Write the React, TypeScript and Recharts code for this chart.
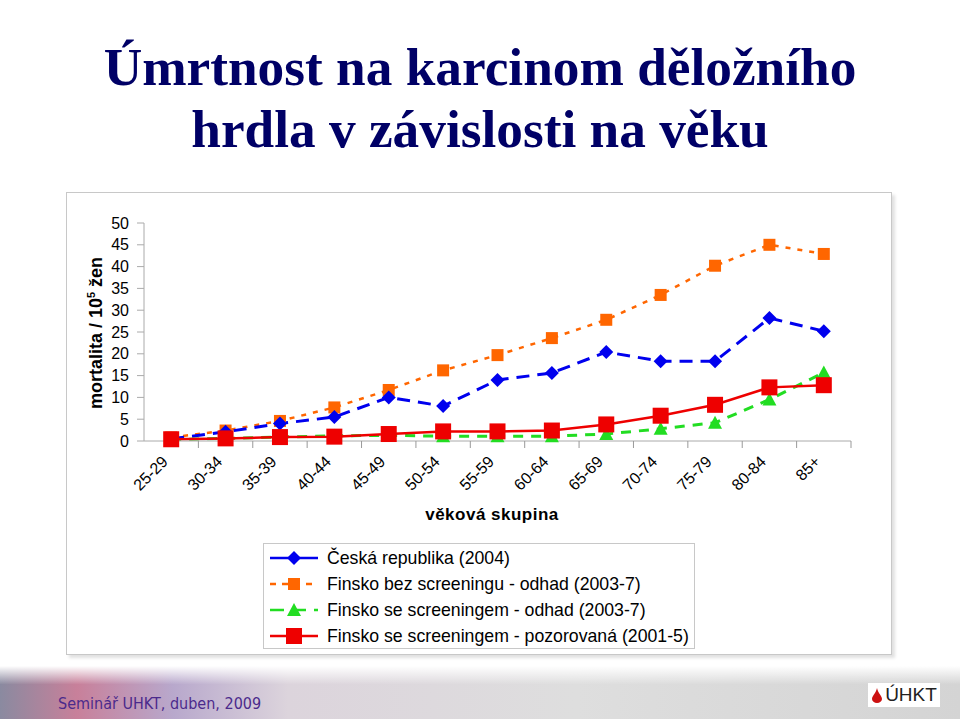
import { LineChart, Line, XAxis, YAxis } from 'recharts'

const ageGroups = ['25-29', '30-34', '35-39', '40-44', '45-49', '50-54', '55-59', '60-64', '65-69', '70-74', '75-79', '80-84', '85+']
const czech = [0.5, 2.1, 4.0, 5.5, 10.0, 8.0, 14.0, 15.6, 20.4, 18.3, 18.3, 28.2, 25.2]
const finNoScreening = [0.8, 2.4, 4.6, 7.7, 11.7, 16.2, 19.7, 23.6, 27.8, 33.5, 40.2, 45.0, 42.9]
const finScreeningEst = [0.3, 0.6, 0.9, 1.2, 1.3, 1.1, 1.1, 1.1, 1.6, 2.8, 4.2, 9.5, 15.7]
const finScreeningObs = [0.4, 0.6, 0.9, 1.0, 1.6, 2.2, 2.2, 2.4, 3.8, 5.8, 8.3, 12.3, 12.8]
const yTicks = [0, 5, 10, 15, 20, 25, 30, 35, 40, 45, 50]

const legendItems = [
  { name: 'Česká republika (2004)', color: '#0000ee', dash: '', shape: 'diamond' },
  { name: 'Finsko bez screeningu - odhad (2003-7)', color: '#ff6600', dash: '6 6', shape: 'square' },
  { name: 'Finsko se screeningem - odhad (2003-7)', color: '#22dd22', dash: '14 8', shape: 'triangle' },
  { name: 'Finsko se screeningem - pozorovaná (2001-5)', color: '#ee0000', dash: '', shape: 'bigSquare' },
]

const data = ageGroups.map((g, i) => ({
  group: g,
  cz: czech[i],
  fin: finNoScreening[i],
  finScr: finScreeningEst[i],
  finObs: finScreeningObs[i],
}))

const FONT = '"Liberation Sans", Arial, sans-serif'
const CHART_W = 826
const CHART_H = 463
const MARGIN = { top: 31, right: 41, left: 38, bottom: 154 }
const Y_W = 40
const step = (CHART_W - MARGIN.left - MARGIN.right - Y_W) / ageGroups.length

function Marker({ shape, cx, cy, color }: { shape: string; cx: number; cy: number; color: string }) {
  if (shape === 'diamond') {
    return <path d={`M${cx},${cy - 7}L${cx + 7},${cy}L${cx},${cy + 7}L${cx - 7},${cy}Z`} fill={color} />
  }
  if (shape === 'triangle') {
    return <path d={`M${cx},${cy - 7}L${cx + 7},${cy + 6}L${cx - 7},${cy + 6}Z`} fill={color} />
  }
  const s = shape === 'bigSquare' ? 8 : 6
  return <rect x={cx - s} y={cy - s} width={s * 2} height={s * 2} fill={color} />
}

const dotFor = (shape: string, color: string) => (p: any) => (
  <Marker key={`${shape}-${p.index}`} shape={shape} cx={p.cx} cy={p.cy} color={color} />
)

function XTick({ x, y, payload }: any) {
  return (
    <g>
      <line x1={x + step / 2} y1={y - 16} x2={x + step / 2} y2={y - 9} stroke="#999" />
      <text
        x={x - 8}
        y={y}
        transform={`rotate(-45, ${x - 8}, ${y})`}
        textAnchor="end"
        dy={8}
        fontSize={16}
        fontFamily={FONT}
        fill="#000"
      >
        {payload.value}
      </text>
    </g>
  )
}

function LegendSample({ item }: { item: (typeof legendItems)[number] }) {
  return (
    <svg width={52} height={18} style={{ display: 'block' }}>
      <line x1={2} y1={9} x2={50} y2={9} stroke={item.color} strokeWidth={2.5} strokeDasharray={item.dash || undefined} />
      <Marker shape={item.shape} cx={26} cy={9} color={item.color} />
    </svg>
  )
}

export default function App() {
  return (
    <div style={{ position: 'absolute', left: 0, top: 0, width: 960, height: 719, background: '#fff', overflow: 'hidden' }}>
      <div
        style={{
          position: 'absolute',
          top: 37,
          left: 0,
          width: 960,
          textAlign: 'center',
          fontFamily: '"Liberation Serif", "Times New Roman", serif',
          fontWeight: 'bold',
          fontSize: 53.3,
          lineHeight: '62px',
          color: '#000066',
        }}
      >
        Úmrtnost na karcinom děložního
        <br />
        hrdla v závislosti na věku
      </div>

      <div
        style={{
          position: 'absolute',
          left: 66,
          top: 192,
          width: CHART_W,
          height: CHART_H,
          border: '1px solid #c8c8c8',
          boxShadow: '3px 3px 3px rgba(0,0,0,0.12)',
          boxSizing: 'border-box',
          background: '#fff',
        }}
      >
        <LineChart width={CHART_W} height={CHART_H} data={data} margin={MARGIN} style={{ position: 'absolute', left: -1, top: -1 }}>
          <XAxis
            dataKey="group"
            interval={0}
            padding={{ left: step / 2, right: step / 2 }}
            tick={<XTick />}
            tickLine={false}
            tickSize={7}
            tickMargin={9}
            axisLine={{ stroke: '#aaa' }}
            height={60}
          />
          <YAxis
            domain={[0, 50]}
            ticks={yTicks}
            interval={0}
            width={Y_W}
            tickSize={7}
            tickMargin={8}
            tick={{ fill: '#000', fontSize: 16, fontFamily: FONT }}
            tickLine={{ stroke: '#aaa' }}
            axisLine={{ stroke: '#aaa' }}
          />
          <Line dataKey="fin" stroke="#ff6600" strokeWidth={2.5} strokeDasharray="5 7" dot={dotFor('square', '#ff6600')} isAnimationActive={false} />
          <Line dataKey="cz" stroke="#0000ee" strokeWidth={3} strokeDasharray="13 8" dot={dotFor('diamond', '#0000ee')} isAnimationActive={false} />
          <Line dataKey="finScr" stroke="#22dd22" strokeWidth={3} strokeDasharray="10 8" dot={dotFor('triangle', '#22dd22')} isAnimationActive={false} />
          <Line dataKey="finObs" stroke="#ee0000" strokeWidth={2.5} dot={dotFor('bigSquare', '#ee0000')} isAnimationActive={false} />
        </LineChart>

        <div
          style={{
            position: 'absolute',
            left: 26,
            top: 140,
            transform: 'translate(-50%, -50%) rotate(-90deg)',
            fontFamily: FONT,
            fontWeight: 'bold',
            fontSize: 18,
            whiteSpace: 'nowrap',
            lineHeight: '20px',
          }}
        >
          mortalita / 10<sup style={{ fontSize: 11 }}>5</sup> žen
        </div>

        <div
          style={{
            position: 'absolute',
            left: 335,
            top: 312,
            width: 180,
            textAlign: 'center',
            fontFamily: FONT,
            fontWeight: 'bold',
            fontSize: 17,
            letterSpacing: 0.5,
          }}
        >
          věková skupina
        </div>

        <div
          style={{
            position: 'absolute',
            left: 196,
            top: 350,
            width: 432,
            height: 106,
            border: '1px solid #c8c8c8',
            boxSizing: 'border-box',
            padding: '1px 0 0 4px',
            fontFamily: FONT,
            fontSize: 17.7,
          }}
        >
          {legendItems.map((item) => (
            <div key={item.name} style={{ display: 'flex', alignItems: 'center', height: 26 }}>
              <LegendSample item={item} />
              <span style={{ marginLeft: 7, whiteSpace: 'nowrap' }}>{item.name}</span>
            </div>
          ))}
        </div>
      </div>

      <div
        style={{
          position: 'absolute',
          left: 0,
          top: 666,
          width: 960,
          height: 53,
          background:
            'linear-gradient(to bottom, rgba(255,255,255,1) 0%, rgba(255,255,255,0) 35%), linear-gradient(to right, #8a8aa0 0%, #c8809a 8%, #b8a8cc 18%, #dcd4dc 30%, #dedede 60%, #d4d4d4 100%)',
        }}
      />
      <div
        style={{
          position: 'absolute',
          left: 58,
          top: 694,
          fontFamily: '"DejaVu Sans Condensed", "DejaVu Sans", sans-serif',
          fontSize: 16,
          color: '#4b2a8c',
        }}
      >
        Seminář UHKT, duben, 2009
      </div>
      <div
        style={{
          position: 'absolute',
          left: 868,
          top: 683,
          width: 72,
          height: 24,
          background: '#fff',
          display: 'flex',
          alignItems: 'center',
          justifyContent: 'center',
          fontFamily: FONT,
          fontSize: 19,
          color: '#222',
        }}
      >
        <svg width={12} height={16} style={{ marginRight: 2 }}>
          <path d="M6,1C7,6 11,9 11,12A5,4 0 0 1 1,12C1,9 5,6 6,1Z" fill="#cc1111" />
        </svg>
        ÚHKT
      </div>
    </div>
  )
}
